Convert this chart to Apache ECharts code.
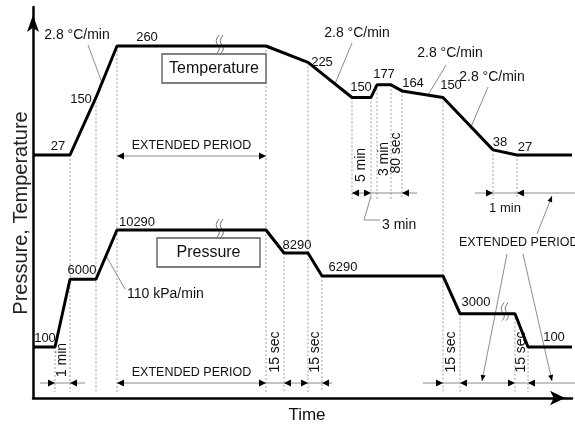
<!DOCTYPE html>
<html>
<head>
<meta charset="utf-8">
<script src="https://cdn.jsdelivr.net/npm/echarts@6/dist/echarts.min.js"></script>
<style>
html, body { margin: 0; padding: 0; background: #fff; }
#chart { width: 575px; height: 427px; }
</style>
</head>
<body>
<div id="chart"></div>
<script>
// Temperature programme: schematic time marks and set points (°C)
const tempTime  = [0, 37, 63, 84, 233, 275, 319, 338, 344, 358, 369, 410, 460, 484, 539];
const tempValue = [27, 27, 150, 260, 260, 225, 150, 150, 177, 177, 164, 150, 38, 27, 27];

// Pressure programme: schematic time marks and set points (kPa)
const pressTime  = [0, 22, 37, 63, 84, 233, 251, 275, 289, 410, 427, 482, 495, 539];
const pressValue = [100, 100, 6000, 6000, 10290, 10290, 8290, 8290, 6290, 6290, 3000, 3000, 100, 100];

// Ramp rates written beside the slopes
const tempRate  = '2.8 °C/min';
const pressRate = '110 kPa/min';

// Step durations: text, start mark, end mark
const stepNotes = [
  ['1 min', 22, 37], ['15 sec', 233, 251], ['15 sec', 275, 289],
  ['15 sec', 410, 427], ['15 sec', 482, 495],
  ['5 min', 319, 338], ['3 min', 344, 358], ['80 sec', 358, 369]
];
const holdText = 'EXTENDED PERIOD';
const timeTitle = 'Time';
const valueTitle = 'Pressure, Temperature';

// ---------- layout ----------
const FONT = '"Liberation Sans", Arial, sans-serif';
const INK = '#111';
const GUIDE = '#a0a0a0';
const LEAD = '#8c8c8c';
const ROW = { top: 156, mid: 193, low: 383 };
const GUIDE_END = { axis: 392, row: 199 };

// where value labels sit beside a vertex: [vertex index, dx, dy]
const tempLabelPlace = [[1, -12, -9], [2, -15, 2], [3, 30, -9], [5, 14, 0], [6, 9, -10],
  [8, 7, -10], [10, 11, -7], [11, 8, -12], [12, 7, -7], [13, 8, -8]];
const pressLabelPlace = [[1, -10, -9], [2, 12, -9], [4, 20, -8], [6, 13, -8], [8, 21, -9],
  [10, 16, -11], [12, 26, -10]];

// dotted guides dropped from a curve at a time mark
const tempGuides = [[37, 'axis'], [63, 'axis'], [84, 'axis'], [233, 'axis'], [275, 'axis'], [410, 'axis'],
  [319, 'row'], [338, 'row'], [344, 'row'], [358, 'row'], [369, 'row'], [460, 'row'], [484, 'row']];
const pressGuides = [22, 251, 289, 427, 482, 495];

// dimension rows: [row, from, to] and arrow heads [row, tip, direction]
const rowLines = [['top', 84, 233], ['mid', 319, 384], ['mid', 442, 542],
  ['low', 7, 52], ['low', 84, 299], ['low', 390, 542]];
const rowHeads = [['top', 84, -1], ['top', 233, 1],
  ['mid', 319, -1], ['mid', 338, 1], ['mid', 369, -1], ['mid', 460, 1], ['mid', 484, -1],
  ['low', 22, 1], ['low', 37, -1], ['low', 84, -1], ['low', 233, 1], ['low', 251, -1],
  ['low', 275, 1], ['low', 289, -1], ['low', 410, 1], ['low', 427, -1], ['low', 482, 1], ['low', 495, -1]];
// vertical step text centre heights
const stepTextY = [360, 352, 352, 352, 352, 165, 159, 153];

// slope notes: [time on curve, text centre time, text centre y, leader start dx, dy]
const tempRateNotes = [[69, 44, 35, 11, 10], [302, 324, 33, -5, 10], [395, 417, 53, -4, 12], [438, 459, 77, -4, 10]];

function valueAt(times, values, t) {
  for (let i = 0; i < times.length - 1; i++) {
    if (t >= times[i] && t <= times[i + 1]) {
      const f = (t - times[i]) / (times[i + 1] - times[i]);
      return values[i] + f * (values[i + 1] - values[i]);
    }
  }
  return values[values.length - 1];
}

function text(str, x, y, size, opt) {
  opt = opt || {};
  return {
    type: 'text', x: x, y: y, rotation: opt.rot || 0,
    style: {
      text: str, fill: opt.fill || INK, font: size + 'px ' + FONT,
      align: opt.align || 'center', verticalAlign: opt.va || 'middle'
    }
  };
}
function seg(x1, y1, x2, y2, stroke, width, dash) {
  return { type: 'line', shape: { x1: x1, y1: y1, x2: x2, y2: y2 },
    style: { stroke: stroke, lineWidth: width, lineDash: dash || null } };
}
function head(x, y, dx, dy, len, half) {
  const l = Math.hypot(dx, dy), ux = dx / l, uy = dy / l;
  const bx = x - ux * len, by = y - uy * len;
  return { type: 'polygon', shape: { points: [[x, y], [bx - uy * half, by + ux * half], [bx + uy * half, by - ux * half]] },
    style: { fill: '#000' } };
}
function breakMark(x, y) {
  const kids = [];
  [0, 4].forEach(function (o) {
    kids.push({ type: 'bezierCurve', shape: { x1: x + o + 2, y1: y - 11, cpx1: x + o - 3, cpy1: y - 5, x2: x + o + 1, y2: y - 1 },
      style: { stroke: '#777', lineWidth: 1, fill: null } });
    kids.push({ type: 'bezierCurve', shape: { x1: x + o + 1, y1: y - 1, cpx1: x + o + 4, cpy1: y + 3, x2: x + o, y2: y + 7 },
      style: { stroke: '#777', lineWidth: 1, fill: null } });
  });
  return kids;
}

// notes tied to the temperature scale, plus the dimension rows
function tempNotes(params, api) {
  const P = function (t, v) { return api.coord([t, v]); };
  const X = function (t) { return api.coord([t, 0])[0]; };
  const kids = [];

  tempGuides.forEach(function (g) {
    const p = P(g[0], valueAt(tempTime, tempValue, g[0]));
    kids.push(seg(p[0], p[1], p[0], GUIDE_END[g[1]], GUIDE, 1, [2, 2]));
  });

  rowLines.forEach(function (r) { kids.push(seg(X(r[1]), ROW[r[0]], X(r[2]), ROW[r[0]], '#8a8a8a', 1)); });
  rowHeads.forEach(function (h) { kids.push(head(X(h[1]), ROW[h[0]], h[2], 0, 7, 3.5)); });

  stepNotes.forEach(function (s, i) {
    kids.push(text(s[0], (X(s[1]) + X(s[2])) / 2, stepTextY[i], 14, { rot: Math.PI / 2 }));
  });
  kids.push(text(holdText, (X(84) + X(233)) / 2, ROW.top - 10, 12.5));
  kids.push(text(holdText, (X(84) + X(233)) / 2, ROW.low - 10, 12.5));
  kids.push(text('1 min', (X(460) + X(484)) / 2, ROW.mid + 15, 13));

  // "3 min" call-out under the 177 °C hold
  kids.push({ type: 'polyline', shape: { points: [[X(338), ROW.mid + 3], [X(331), 220], [X(347), 220]] },
    style: { stroke: LEAD, lineWidth: 1, fill: null } });
  kids.push(text('3 min', X(349), 225, 14, { align: 'left' }));

  // extended hold call-outs on the right
  kids.push(text(holdText, X(426), 243, 12.5, { align: 'left' }));
  [[474, 254, 449, ROW.low - 2], [490, 254, 519, ROW.low - 2], [504, 234, 519, ROW.mid + 3]].forEach(function (c) {
    const x1 = X(c[0]), x2 = X(c[2]);
    kids.push(seg(x1, c[1], x2, c[3], LEAD, 1));
    kids.push(head(x2, c[3], x2 - x1, c[3] - c[1], 6, 2.5));
  });

  // ramp-rate notes with leaders
  tempRateNotes.forEach(function (n) {
    const p = P(n[0], valueAt(tempTime, tempValue, n[0]));
    const cx = X(n[1]), cy = n[2];
    kids.push(seg(cx + n[3], cy + n[4], p[0], p[1], LEAD, 1));
    kids.push(text(tempRate, cx, cy, 14));
  });

  // value labels
  tempLabelPlace.forEach(function (l) {
    const p = P(tempTime[l[0]], tempValue[l[0]]);
    kids.push(text(String(tempValue[l[0]]), p[0] + l[1], p[1] + l[2], 13));
  });

  // curve box and break mark
  const top = P(129, 260);
  kids.push({ type: 'rect', shape: { x: top[0], y: top[1] + 8, width: X(233) - top[0], height: 29 },
    style: { fill: '#fff', stroke: '#555', lineWidth: 1.3 } });
  kids.push(text('Temperature', (top[0] + X(233)) / 2, top[1] + 23, 16));
  const b = P(184, 260);
  breakMark(b[0], b[1]).forEach(function (k) { kids.push(k); });

  return { type: 'group', children: kids };
}

// notes tied to the pressure scale
function pressNotes(params, api) {
  const P = function (t, v) { return api.coord([t, v]); };
  const X = function (t) { return api.coord([t, 0])[0]; };
  const kids = [];

  pressGuides.forEach(function (t) {
    const p = P(t, valueAt(pressTime, pressValue, t));
    kids.push(seg(p[0], p[1], p[0], GUIDE_END.axis, GUIDE, 1, [2, 2]));
  });

  const r = P(73, valueAt(pressTime, pressValue, 73));
  kids.push(seg(r[0], r[1], X(92), 289, LEAD, 1));
  kids.push(text(pressRate, X(94), 294, 14, { align: 'left' }));

  pressLabelPlace.forEach(function (l) {
    const p = P(pressTime[l[0]], pressValue[l[0]]);
    kids.push(text(String(pressValue[l[0]]), p[0] + l[1], p[1] + l[2], 13));
  });

  const top = P(124, 10290);
  kids.push({ type: 'rect', shape: { x: top[0], y: top[1] + 8, width: X(227) - top[0], height: 29 },
    style: { fill: '#fff', stroke: '#555', lineWidth: 1.3 } });
  kids.push(text('Pressure', (top[0] + X(227)) / 2, top[1] + 23, 16));
  [[184, 10290], [469, 3000]].forEach(function (m) {
    const p = P(m[0], m[1]);
    breakMark(p[0], p[1]).forEach(function (k) { kids.push(k); });
  });

  return { type: 'group', children: kids };
}

const chart = echarts.init(document.getElementById('chart'));
chart.setOption({
  animation: false,
  backgroundColor: '#fff',
  grid: { left: 33, right: 3, top: 7, bottom: 29 },
  xAxis: {
    type: 'value', min: 0, max: 539,
    axisLine: { show: true, onZero: false, symbol: ['none', 'arrow'], symbolSize: [11, 15], symbolOffset: [0, -7],
      lineStyle: { color: '#000', width: 2.5 } },
    axisTick: { show: false }, axisLabel: { show: false }, splitLine: { show: false }
  },
  yAxis: [
    {
      type: 'value', min: -492.44, max: 343.37,
      axisLine: { show: true, onZero: false, symbol: ['none', 'arrow'], symbolSize: [9, 17], symbolOffset: [0, -8],
        lineStyle: { color: '#000', width: 2.5 } },
      axisTick: { show: false }, axisLabel: { show: false }, splitLine: { show: false }
    },
    {
      type: 'value', min: -4342, max: 29711, show: false, splitLine: { show: false }
    }
  ],
  graphic: [
    { type: 'text', x: 21, y: 213, rotation: Math.PI / 2,
      style: { text: valueTitle, font: '20px ' + FONT, fill: '#222', align: 'center', verticalAlign: 'middle' } },
    { type: 'text', x: 307, y: 415,
      style: { text: timeTitle, font: '17px ' + FONT, fill: '#111', align: 'center', verticalAlign: 'middle' } }
  ],
  series: [
    { type: 'custom', name: 'temperature notes', yAxisIndex: 0, silent: true, data: [[0, 0]], renderItem: tempNotes, z: 1 },
    { type: 'custom', name: 'pressure notes', yAxisIndex: 1, silent: true, data: [[0, 0]], renderItem: pressNotes, z: 1 },
    {
      type: 'line', name: 'Temperature', yAxisIndex: 0, symbol: 'none', z: 3,
      data: tempTime.map(function (t, i) { return [t, tempValue[i]]; }),
      lineStyle: { color: '#000', width: 3 }
    },
    {
      type: 'line', name: 'Pressure', yAxisIndex: 1, symbol: 'none', z: 3,
      data: pressTime.map(function (t, i) { return [t, pressValue[i]]; }),
      lineStyle: { color: '#000', width: 3 }
    }
  ]
});
</script>
</body>
</html>
